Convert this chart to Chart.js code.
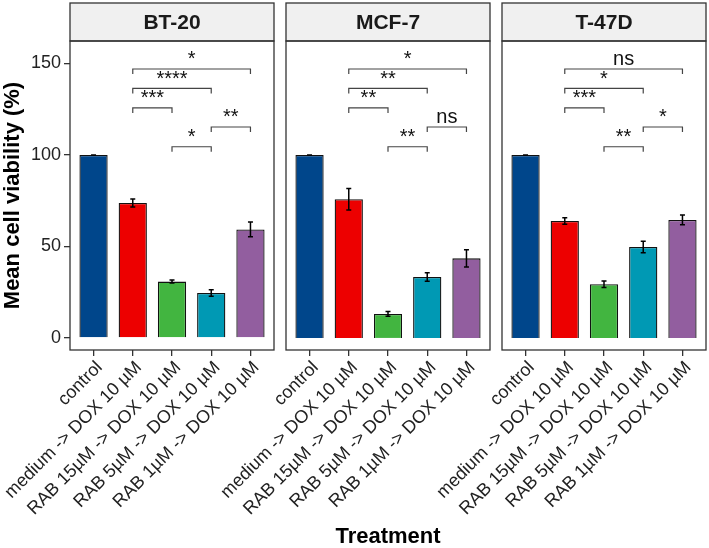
<!DOCTYPE html>
<html>
<head>
<meta charset="utf-8">
<script src="https://cdn.jsdelivr.net/npm/chart.js@4.4.1/dist/chart.umd.min.js"></script>
<style>
  html, body { margin: 0; padding: 0; background: #fff; }
  #wrap { position: relative; width: 709px; height: 548px; }
  #wrap canvas { position: absolute; left: 0; top: 0; }
</style>
</head>
<body>
<div id="wrap">
  <canvas id="bt20" width="709" height="548"></canvas>
  <canvas id="mcf7" width="709" height="548"></canvas>
  <canvas id="t47d" width="709" height="548"></canvas>
</div>
<script>
const treatments = ['control', 'medium -> DOX 10 µM', 'RAB 15µM -> DOX 10 µM', 'RAB 5µM -> DOX 10 µM', 'RAB 1µM -> DOX 10 µM'];
const barColors = ['#00468B', '#ED0000', '#42B540', '#0099B4', '#925E9F'];

const bt20Mean = [100, 73.8, 30.8, 24.6, 59.3];
const bt20Err  = [0, 2.2, 0.8, 1.8, 4.0];
const mcf7Mean = [100, 75.8, 13.1, 33.3, 43.5];
const mcf7Err  = [0, 5.9, 1.3, 2.3, 4.7];
const t47dMean = [100, 63.9, 29.3, 49.7, 64.5];
const t47dErr  = [0, 1.8, 1.8, 3.2, 2.7];

// brackets: group from, group to, height, label per cell line
const bracketFrom = [2, 2, 2, 3, 4];
const bracketTo   = [5, 4, 3, 4, 5];
const bracketY    = [147, 136.4, 125.8, 104.5, 115.3];
const bt20Sig = ['*', '****', '***', '*', '**'];
const mcf7Sig = ['*', '**', '**', '**', 'ns'];
const t47dSig = ['ns', '*', '***', '**', '*'];

const yTicks = [0, 50, 100, 150];

const FONT = '"Liberation Sans", Arial, Helvetica, sans-serif';
Chart.defaults.font.family = FONT;
Chart.defaults.color = '#222';

const STRIP_H = 38;

const facetPlugin = {
    id: 'facet',
    beforeDatasetsDraw(chart, args, opts) {
        const { ctx, chartArea: a } = chart;
        ctx.save();
        ctx.fillStyle = '#f0f0f0';
        ctx.strokeStyle = '#333';
        ctx.lineWidth = 1.3;
        ctx.fillRect(a.left, a.top - STRIP_H, a.width, STRIP_H);
        ctx.strokeRect(a.left, a.top - STRIP_H, a.width, STRIP_H);
        ctx.strokeRect(a.left, a.top, a.width, a.height);
        ctx.fillStyle = '#1a1a1a';
        ctx.font = 'bold 21px ' + FONT;
        ctx.textAlign = 'center';
        ctx.textBaseline = 'middle';
        ctx.fillText(opts.title, (a.left + a.right) / 2, a.top - STRIP_H / 2 + 1);
        ctx.restore();
    },
    afterDatasetsDraw(chart, args, opts) {
        const { ctx } = chart;
        const x = chart.scales.x, y = chart.scales.y;
        ctx.save();
        // error bars
        ctx.strokeStyle = '#000';
        ctx.lineWidth = 1.5;
        opts.means.forEach((m, i) => {
            const px = x.getPixelForValue(i + 1);
            const hi = y.getPixelForValue(m + opts.errs[i]);
            const lo = y.getPixelForValue(m - opts.errs[i]);
            ctx.beginPath();
            ctx.moveTo(px, hi); ctx.lineTo(px, lo);
            ctx.moveTo(px - 2.5, hi); ctx.lineTo(px + 2.5, hi);
            ctx.moveTo(px - 2.5, lo); ctx.lineTo(px + 2.5, lo);
            ctx.stroke();
        });
        // significance brackets
        ctx.strokeStyle = '#444';
        ctx.lineWidth = 1.2;
        ctx.fillStyle = '#111';
        ctx.font = '20px ' + FONT;
        ctx.textAlign = 'center';
        ctx.textBaseline = 'alphabetic';
        bracketFrom.forEach((f, i) => {
            const x1 = x.getPixelForValue(f);
            const x2 = x.getPixelForValue(bracketTo[i]);
            const by = y.getPixelForValue(bracketY[i]);
            const tip = y.getPixelForValue(bracketY[i] - 2.8);
            ctx.beginPath();
            ctx.moveTo(x1, tip); ctx.lineTo(x1, by); ctx.lineTo(x2, by); ctx.lineTo(x2, tip);
            ctx.stroke();
            ctx.fillText(opts.sig[i], (x1 + x2) / 2, by - 3.5);
        });
        ctx.restore();
    }
};

function makePanel(id, title, means, errs, sig, left, right, showY, showXTitle) {
    return new Chart(document.getElementById(id), {
        type: 'bar',
        data: {
            datasets: [{
                data: means.map((m, i) => ({ x: i + 1, y: m })),
                backgroundColor: barColors,
                borderColor: '#111',
                borderWidth: 1.3,
                categoryPercentage: 1,
                barPercentage: 0.72
            }]
        },
        options: {
            responsive: false,
            animation: false,
            events: [],
            layout: { autoPadding: false, padding: { left: showY ? 0 : left, right: 709 - right, top: 41, bottom: 0 } },
            plugins: {
                legend: { display: false },
                tooltip: { enabled: false },
                facet: { title: title, means: means, errs: errs, sig: sig }
            },
            scales: {
                x: {
                    type: 'linear',
                    offset: false,
                    min: 0.4,
                    max: 5.6,
                    afterBuildTicks: ax => { ax.ticks = treatments.map((t, i) => ({ value: i + 1 })); },
                    afterFit: ax => { ax.height = 198; ax.paddingLeft = 0; ax.paddingRight = 0; },
                    ticks: {
                        autoSkip: false, minRotation: 45, maxRotation: 45,
                        labelOffset: 6, padding: 1, color: '#222',
                        font: { size: 18 },
                        callback: v => treatments[v - 1]
                    },
                    grid: { drawOnChartArea: false, offset: false, tickLength: 6, tickColor: '#333', lineWidth: 1.3 },
                    border: { display: false },
                    title: {
                        display: showXTitle, text: 'Treatment', color: '#000',
                        font: { size: 22, weight: 'bold' }, padding: { top: 0, bottom: -2 }
                    }
                },
                y: {
                    display: showY,
                    min: -6.6,
                    max: 162.3,
                    afterBuildTicks: ax => { ax.ticks = yTicks.map(v => ({ value: v })); },
                    afterFit: ax => { ax.width = showY ? left + 70 : 0; },
                    ticks: { color: '#222', font: { size: 18 }, padding: 3 },
                    grid: { drawOnChartArea: false, tickLength: 6, tickColor: '#333', lineWidth: 1.3 },
                    border: { display: false },
                    title: {
                        display: true, text: 'Mean cell viability (%)', color: '#000',
                        font: { size: 22, weight: 'bold' }, padding: { top: 0, bottom: 0 }
                    }
                }
            }
        },
        plugins: [facetPlugin]
    });
}

makePanel('bt20', 'BT-20', bt20Mean, bt20Err, bt20Sig, 0, 274, true, false);
makePanel('mcf7', 'MCF-7', mcf7Mean, mcf7Err, mcf7Sig, 286, 490, false, true);
makePanel('t47d', 'T-47D', t47dMean, t47dErr, t47dSig, 502, 706, false, false);
</script>
</body>
</html>
